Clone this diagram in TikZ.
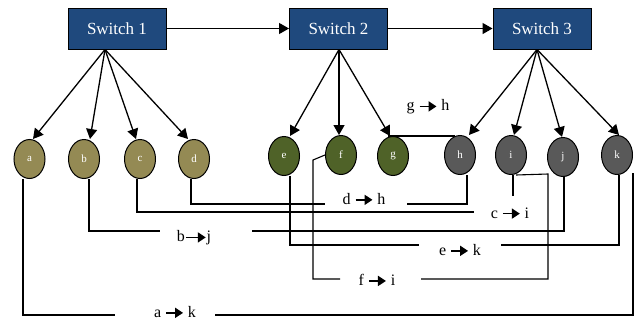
\documentclass[tikz,border=0pt]{standalone}
\usepackage{fontspec}
\setmainfont{Liberation Serif}
\usetikzlibrary{arrows.meta,shapes.geometric}
\definecolor{swblue}{HTML}{1F497D}
\definecolor{tan}{HTML}{948A54}
\definecolor{dkgreen}{HTML}{4F6228}
\definecolor{dkgray}{HTML}{595959}
\newcommand{\rarr}[1][18pt]{\tikz[baseline=-0.6ex]\draw[line width=1.8pt,-{Triangle[length=8pt,width=10pt]}] (0pt,0pt)--(#1,0pt);}
\begin{document}
\begin{tikzpicture}[x=1pt,y=-1pt,
  switch/.style={draw=black, fill=swblue, text=white, minimum width=98pt, minimum height=41pt, inner sep=0pt, line width=1pt, font=\fontsize{17}{20}\selectfont},
  host/.style={ellipse, draw=black, line width=1pt, minimum width=31pt, minimum height=39pt, inner sep=0pt, text=white, font=\fontsize{11}{12}\selectfont},
  tip/.style={-{Triangle[length=10pt,width=11pt]}, line width=1.3pt},
  conn/.style={line width=1.1pt},
  lbl/.style={inner sep=0pt, font=\fontsize{16}{18}\selectfont}
]
\useasboundingbox (0,0) rectangle (636,324);
% switches
\node[switch] (s1) at (117,28.5) {Switch 1};
\node[switch] (s2) at (338.5,28.5) {Switch 2};
\node[switch] (s3) at (542,28.5) {Switch 3};
\draw[tip] (s1) -- (s2);
\draw[tip] (s2) -- (s3);
% hosts
\node[host, fill=tan] (a) at (29.5,159) {a};
\node[host, fill=tan] (b) at (84,159) {b};
\node[host, fill=tan] (c) at (140,159) {c};
\node[host, fill=tan] (d) at (194,159) {d};
\node[host, fill=dkgreen] (e) at (284,156) {e};
\node[host, fill=dkgreen] (f) at (341,155) {f};
\node[host, fill=dkgreen] (g) at (393,156) {g};
\node[host, fill=dkgray] (h) at (460,155) {h};
\node[host, fill=dkgray] (i) at (511,155) {i};
\node[host, fill=dkgray] (j) at (563,157) {j};
\node[host, fill=dkgray] (k) at (617,155) {k};
% switch to host arrows
\coordinate (o1) at ([xshift=-12pt]s1.south);
\coordinate (o2) at ([xshift=0.5pt]s2.south);
\coordinate (o3) at ([xshift=-5pt]s3.south);
\draw[tip] (o1) -- ([xshift=3.5pt]a.north);
\draw[tip] (o1) -- ([xshift=6pt]b.north);
\draw[tip] (o1) -- ([xshift=-4pt]c.north);
\draw[tip] (o1) -- ([xshift=-6pt]d.north);
\draw[tip] (o2) -- ([xshift=6pt]e.north);
\draw[tip] (o2) -- ([xshift=-2pt]f.north);
\draw[tip] (o2) -- ([xshift=-3pt]g.north);
\draw[tip] (o3) -- ([xshift=9pt]h.north);
\draw[tip] (o3) -- ([xshift=3pt]i.north);
\draw[tip] (o3) -- ([xshift=-1pt]j.north);
\draw[tip] (o3) -- ([xshift=2pt]k.north);
% g -> h
\draw[conn] ([xshift=-5pt]g.north) -- ([xshift=-5pt]g.north -| h.north);
\node[lbl] (gh) at (428,107) {g \rarr[17pt] h};
% d -> h
\coordinate (dh1) at (325,204);
\coordinate (dh2) at (407,204);
\node[lbl] (dh) at (364,199) {d \rarr[17pt] h};
\draw[conn] ([xshift=-3pt]d.south) |- (dh1);
\draw[conn] (dh2) -| ([xshift=7pt]h.south);
% c -> i
\node[lbl] (ci) at (510,213) {c \rarr[17pt] i};
\coordinate (ci1) at (474,212);
\draw[conn] ([xshift=-3pt]c.south) |- (ci1);
\draw[conn] ([xshift=2pt]i.south) -- ++(0,21);
% b -> j
\node[lbl] (bj) at (194,238) {b\rarr[20pt]j};
\coordinate (bj1) at (160,231);
\coordinate (bj2) at (252,231);
\draw[conn] ([xshift=5pt]b.south) |- (bj1);
\draw[conn] (bj2) -| ([xshift=1pt]j.south);
% e -> k
\node[lbl] (ek) at (460,250) {e \rarr[17pt] k};
\coordinate (ek1) at (419,245);
\coordinate (ek2) at (501,245);
\draw[conn] ([xshift=6pt]e.south) |- (ek1);
\draw[conn] (ek2) -| ([xshift=2pt]k.south);
% f -> i
\node[lbl] (fi) at (377,280) {f \rarr[17pt] i};
\coordinate (fi0) at (313,160);
\coordinate (fi1) at (340,279);
\coordinate (fi2) at (421,279);
\coordinate (fi3) at (548,174);
\draw[conn] (f.west) -- (fi0) |- (fi1);
\draw[conn] (fi2) -| (fi3) -- ([xshift=5pt]i.south);
% a -> k
\node[lbl] (ak) at (175,312) {a \rarr[17pt] k};
\coordinate (ak1) at (115,315);
\coordinate (ak2) at (215,315);
\coordinate (ak3) at (633,173);
\draw[conn] ([xshift=-6.5pt]a.south) |- (ak1);
\draw[conn] (ak2) -| (ak3);
\end{tikzpicture}
\end{document}
